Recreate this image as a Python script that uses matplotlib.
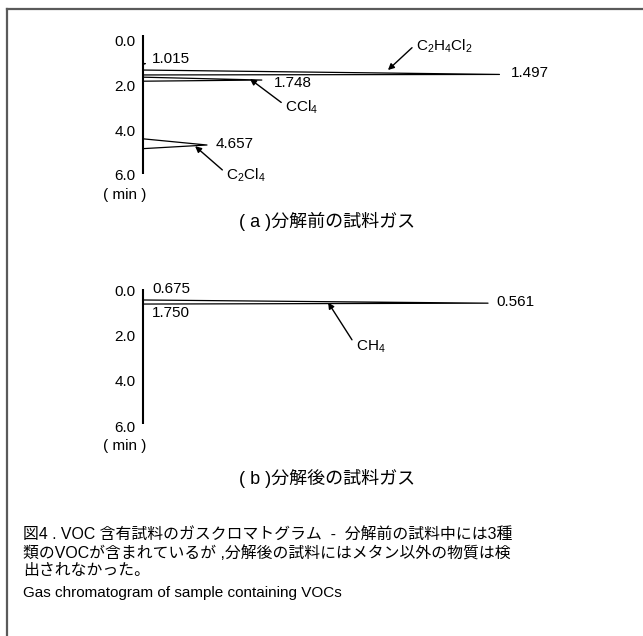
import matplotlib.pyplot as plt
from matplotlib.lines import Line2D

plt.rcParams['font.family'] = ['Liberation Sans', 'Noto Sans CJK JP', 'DejaVu Sans']
plt.rcParams['mathtext.fontset'] = 'custom'
plt.rcParams['mathtext.rm'] = 'Liberation Sans'
plt.rcParams['mathtext.default'] = 'rm'

# retention times (min), peak heights (relative), peak start / end (min)
times_a = [1.015, 1.497, 1.748, 4.657]
heights_a = [0.5, 78, 26, 14]
start_a = [1.00, 1.30, 1.62, 4.38]
end_a = [1.03, 1.52, 1.80, 4.82]

times_b = [0.561]
heights_b = [75.5]
start_b = [0.42]
end_b = [0.60]

labels_b = ['0.675', '1.750', '0.561']
time_ticks = [0, 2, 4, 6]
tick_labels = ['0.0', '2.0', '4.0', '6.0']

W, H = 643, 636
fig = plt.figure(figsize=(W / 100, H / 100), dpi=100)


def px_axes(top0, top6):
    # axes whose left edge is the time axis, t=0 at pixel row top0, t=6 at top6
    return fig.add_axes([143 / W, (H - top6) / H, 457 / W, (top6 - top0) / H])


def draw_trace(ax, starts, times, heights, ends, t_lo, t_hi):
    ax.plot([0, 0], [t_lo, t_hi], color='black', lw=1.5, clip_on=False,
            solid_capstyle='butt')
    for s, t, h, e in zip(starts, times, heights, ends):
        ax.plot([0, h, 0], [s, t, e], color='black', lw=0.9, clip_on=False)
    ax.set_xlim(0, 100)
    ax.set_ylim(6, 0)
    ax.set_yticks(time_ticks)
    ax.set_yticklabels(tick_labels, fontsize=11)
    ax.tick_params(axis='y', length=0, pad=5.5)
    ax.set_xticks([])
    for sp in ax.spines.values():
        sp.set_visible(False)
    ax.patch.set_alpha(0)


arrow = dict(arrowstyle='-|>', color='black', lw=1.0, mutation_scale=9,
             shrinkA=1, shrinkB=0, relpos=(0, 0.6))

# (a) before decomposition
ax1 = px_axes(41, 175)
draw_trace(ax1, start_a, times_a, heights_a, end_a, -0.27, 5.95)
ax1.text(2.0, 0.81, '%.3f' % times_a[0], fontsize=11, va='center')
ax1.text(80.5, 1.43, '%.3f' % times_a[1], fontsize=11, va='center')
ax1.text(28.7, 1.88, '%.3f' % times_a[2], fontsize=11, va='center')
ax1.text(15.8, 4.62, '%.3f' % times_a[3], fontsize=11, va='center')
ax1.annotate(r'C$_2$H$_4$Cl$_2$', xy=(53.6, 1.30), xytext=(59.7, 0.22),
             fontsize=11, va='center', arrowprops=arrow)
ax1.annotate(r'CCl$_4$', xy=(23.4, 1.70), xytext=(31.1, 2.96),
             fontsize=11, va='center', arrowprops=arrow)
ax1.annotate(r'C$_2$Cl$_4$', xy=(11.4, 4.71), xytext=(18.2, 6.0),
             fontsize=11, va='center', arrowprops=arrow)

# (b) after decomposition
ax2 = px_axes(290.5, 426)
draw_trace(ax2, start_b, times_b, heights_b, end_b, -0.07, 5.9)
ax2.text(2.0, -0.07, labels_b[0], fontsize=11, va='center')
ax2.text(2.0, 1.0, labels_b[1], fontsize=11, va='center')
ax2.text(77.4, 0.5, labels_b[2], fontsize=11, va='center')
ax2.annotate(r'CH$_4$', xy=(40.5, 0.53), xytext=(46.5, 2.5),
             fontsize=11, va='center', arrowprops=arrow)


# text outside the axes
def ftext(x, y, s, **kw):
    fig.text(x / W, 1 - y / H, s, **kw)


ftext(125, 195, '( min )', fontsize=11, ha='center', va='center')
ftext(125, 446, '( min )', fontsize=11, ha='center', va='center')
ftext(327, 221, '( a )分解前の試料ガス', fontsize=13, ha='center', va='center')
ftext(327, 478, '( b )分解後の試料ガス', fontsize=13, ha='center', va='center')

ftext(23, 534, '図4 . VOC 含有試料のガスクロマトグラム  -  分解前の試料中には3種',
      fontsize=11.4, va='center')
ftext(23, 553, '類のVOCが含まれているが ,分解後の試料にはメタン以外の物質は検',
      fontsize=11.4, va='center')
ftext(23, 571, '出されなかった。', fontsize=11.4, va='center')
ftext(23, 597, 'Gas chromatogram of sample containing VOCs', fontsize=11,
      va='baseline')

# frame (top and left edges only, the rest is cropped)
fig.add_artist(Line2D([6.5 / W, 1], [1 - 9 / H, 1 - 9 / H], color='#5a5a5a', lw=1.6))
fig.add_artist(Line2D([6.5 / W, 6.5 / W], [1 - 9 / H, 0], color='#5a5a5a', lw=1.6))

fig.savefig('out.png', dpi=100)
